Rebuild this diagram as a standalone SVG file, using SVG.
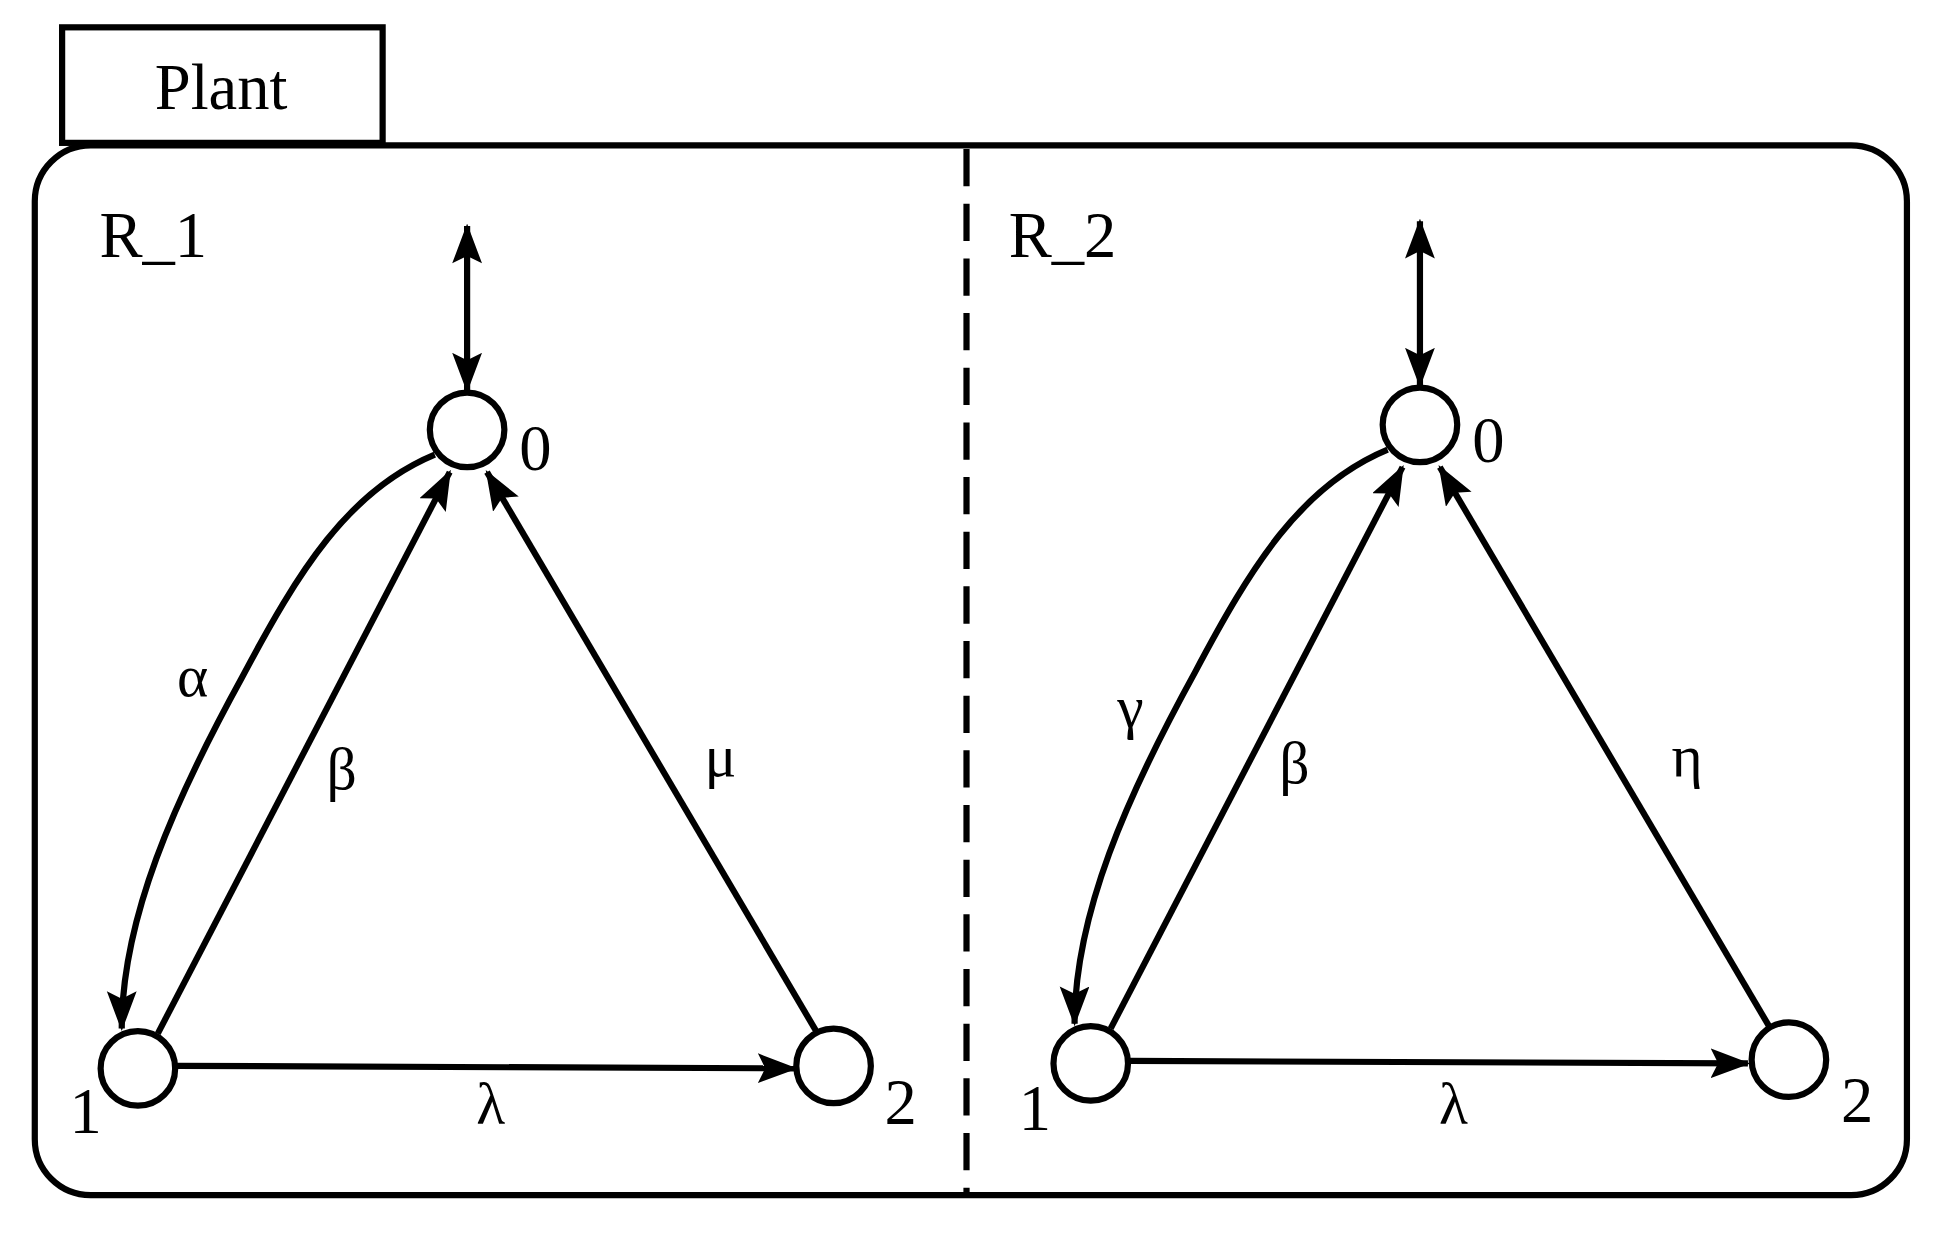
<svg xmlns="http://www.w3.org/2000/svg" width="1948" height="1233" viewBox="0 0 1948 1233">
<style>
.b{fill:none;stroke:#000;stroke-width:5}
.n{fill:#fff;stroke:#000;stroke-width:5}
.e{fill:none;stroke:#000;stroke-width:5;marker-end:url(#ah)}
.t{font-family:"Liberation Serif","DejaVu Serif",serif;font-size:52px;fill:#000}
.g{font-family:"Liberation Serif","DejaVu Serif",serif;font-size:48px;fill:#000;text-anchor:middle}
</style>
<defs>
<marker id="ah" markerUnits="userSpaceOnUse" markerWidth="34" markerHeight="28" refX="30" refY="12" orient="auto"><path d="M0,0 L32,12 L0,24 L6,12 Z" fill="#000"/></marker>
<marker id="as" markerUnits="userSpaceOnUse" markerWidth="34" markerHeight="28" refX="2" refY="12" orient="auto"><path d="M32,0 L0,12 L32,24 L26,12 Z" fill="#000"/></marker>
</defs>
<rect width="1948" height="1233" fill="#fff"/>
<g transform="scale(1.2423)">
<g id="frame">
<rect class="b" x="50" y="22" width="258" height="93"/>
<text class="t" x="178" y="88" text-anchor="middle">Plant</text>
<rect class="b" x="28" y="117" width="1507" height="845" rx="45"/>
<line class="b" x1="778" y1="120" x2="778" y2="960" stroke-dasharray="30,14"/>
<text class="t" x="80" y="207">R_1</text>
<text class="t" x="812" y="207">R_2</text>
</g>
<g id="connectors">
<line class="e" x1="376" y1="182" x2="376" y2="314" style="marker-start:url(#as)"/>
<path class="e" d="M350,366 C280,395 240,460 195,545 C140,645 98,740 98,828"/>
<line class="e" x1="127" y1="832" x2="362" y2="380"/>
<line class="e" x1="657" y1="830" x2="392" y2="380"/>
<line class="e" x1="142" y1="858" x2="640" y2="860"/>
<line class="e" x1="1143" y1="178" x2="1143" y2="310" style="marker-start:url(#as)"/>
<path class="e" d="M1117,362 C1047,391 1007,456 962,541 C907,641 865,736 865,824"/>
<line class="e" x1="894" y1="828" x2="1129" y2="376"/>
<line class="e" x1="1424" y1="826" x2="1159" y2="376"/>
<line class="e" x1="909" y1="854" x2="1407" y2="856"/>
</g>
<g class="g">
<text x="155" y="560">α</text><text x="275" y="635">β</text><text x="580" y="625">μ</text><text x="395" y="905">λ</text>
<text x="910" y="585">γ</text><text x="1042" y="630">β</text><text x="1358" y="625">η</text><text x="1170" y="905">λ</text>
</g>
<g id="r1n0"><circle class="n" cx="376" cy="346" r="30"/><text class="t" x="418" y="378">0</text></g>
<g id="r1n1"><circle class="n" cx="111" cy="860" r="30"/><text class="t" x="56" y="912">1</text></g>
<g id="r1n2"><circle class="n" cx="671" cy="858" r="30"/><text class="t" x="712" y="905">2</text></g>
<g id="r2n0"><circle class="n" cx="1143" cy="342" r="30"/><text class="t" x="1185" y="372">0</text></g>
<g id="r2n1"><circle class="n" cx="878" cy="856" r="30"/><text class="t" x="820" y="910">1</text></g>
<g id="r2n2"><circle class="n" cx="1440" cy="853" r="30"/><text class="t" x="1482" y="903">2</text></g>
</g>
</svg>
